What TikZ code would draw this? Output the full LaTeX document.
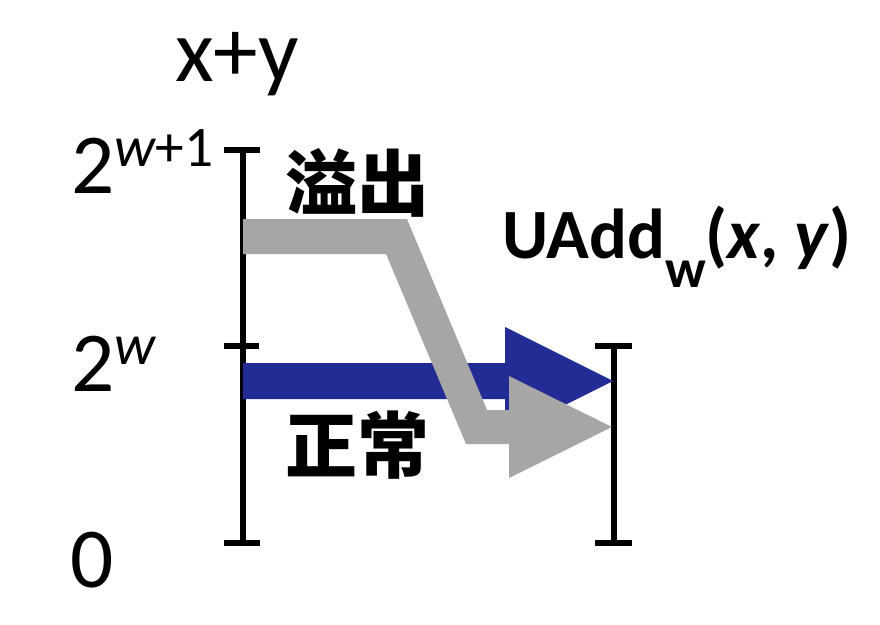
\documentclass[tikz,border=0pt]{standalone}
\usepackage{fontspec}
\setmainfont{Carlito}
\newfontfamily\cjk{Noto Sans CJK SC}
\definecolor{arrowblue}{RGB}{35,43,148}
\definecolor{arrowgray}{RGB}{166,166,166}
\begin{document}
\begin{tikzpicture}[x=0.75pt,y=-0.75pt,
  axis/.style={line width=5.2pt,black},
  lbl/.style={inner sep=0pt,anchor=base west},
  big/.style={font=\fontsize{64}{72}\selectfont},
  cjklbl/.style={inner sep=0pt,font=\cjk\bfseries\fontsize{54}{60}\selectfont}]
\useasboundingbox (0,0) rectangle (880,624);
% left axis
\draw[axis] (243,150) -- (243,543);
\draw[axis] (224,150) -- (260,150);
\draw[axis] (224,346) -- (259,346);
\draw[axis] (224,543) -- (260,543);
% right axis
\draw[axis] (614,346) -- (614,543);
\draw[axis] (595,346) -- (632,346);
\draw[axis] (595,543) -- (632,543);
% blue arrow (normal)
\fill[arrowblue] (243,363) -- (505,363) -- (505,327) -- (613,381) -- (505,435) -- (505,399) -- (243,399) -- cycle;
% gray arrow (overflow)
\fill[arrowgray] (243,219) -- (407,219) -- (487,410) -- (509,410) -- (509,376) -- (612,427) -- (509,478) -- (509,444) -- (466,444) -- (386,254) -- (243,254) -- cycle;
% labels
\node[lbl,font=\fontsize{67}{74}\selectfont] (xy) at (175,82) {x+y};
\node[lbl,big] (top) at (71,193) {2\raisebox{20pt}{\fontsize{43}{48}\selectfont\itshape w\upshape+1}};
\node[lbl,big] (mid) at (71,391) {2\raisebox{20pt}{\fontsize{43}{48}\selectfont\itshape w}};
\node[lbl,big] (zero) at (70,587) {0};
\node[cjklbl] (ov) at (357,183) {溢出};
\node[cjklbl] (no) at (357,445) {正常};
\node[lbl,font=\bfseries\fontsize{53}{58}\selectfont] (ua) at (502,258) {UAdd\raisebox{-22pt}{\fontsize{41}{46}\selectfont w}(\textit{x}, \textit{y})};
\end{tikzpicture}
\end{document}
